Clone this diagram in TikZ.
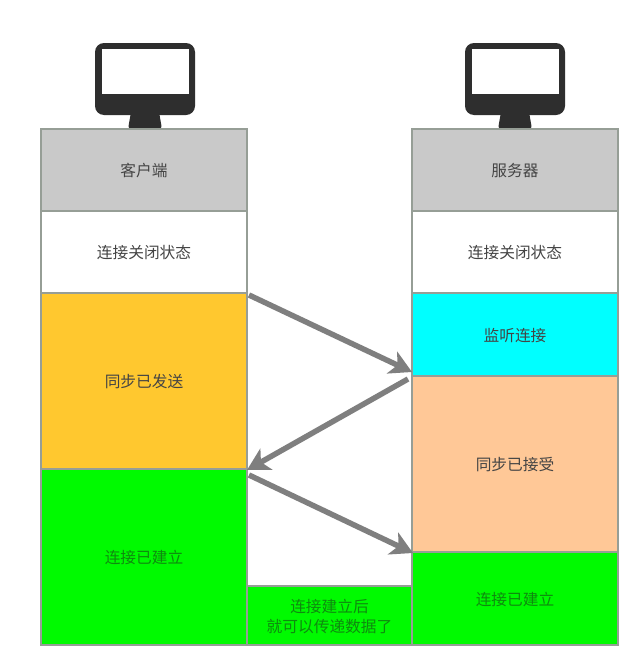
\documentclass[tikz,border=0pt]{standalone}
\usepackage{fontspec}
\setmainfont{Noto Sans CJK SC}
\usetikzlibrary{arrows.meta,calc}
\definecolor{edge}{HTML}{969E96}
\definecolor{flow}{HTML}{7F7F7F}
\definecolor{ink}{HTML}{444444}
\definecolor{greenink}{HTML}{0F8A0F}
\definecolor{mon}{HTML}{2E2E2E}
\definecolor{grayfill}{HTML}{C9C9C9}
\definecolor{amber}{HTML}{FFC82F}
\definecolor{peach}{HTML}{FFC897}
\definecolor{aqua}{HTML}{00FFFF}
\definecolor{lime}{HTML}{00FA00}
\tikzset{
  cell/.style={draw=edge,line width=1.2pt,anchor=north west,minimum width=206pt,inner sep=0pt,outer sep=0pt,
    text=ink,font=\fontsize{15.7}{19.5}\selectfont,align=center,text height=15pt,text depth=2pt},
  flowarrow/.style={draw=flow,line width=5.5pt,-{Stealth[length=22pt,width=24pt,inset=6pt]}},
  screenbody/.style={fill=mon,draw=none},
}
\newcommand{\monitor}[1]{%
  \begin{scope}[shift={(#1,0)}]
    \fill[screenbody,rounded corners=9pt] (95,43) rectangle (195,115);
    \fill[screenbody,rounded corners=3pt] (131,112) -- (159,112) -- (162,129) -- (128,129) -- cycle;
    \fill[white] (102,49) rectangle (189,94);
  \end{scope}}
\begin{document}
\begin{tikzpicture}[x=1pt,y=-1pt]
\useasboundingbox (0,0) rectangle (642,656);
\fill[white] (0,0) rectangle (642,656);
\monitor{0}
\monitor{370}
% left column
\node[cell,fill=grayfill,minimum height=82pt] (c1) at (41,129) {客户端};
\node[cell,fill=white,minimum height=82pt] (c2) at (41,211) {连接关闭状态};
\node[cell,fill=amber,minimum height=176pt] (c3) at (41,293) {同步已发送};
\node[cell,fill=lime,text=greenink,minimum height=176pt] (c4) at (41,469) {连接已建立};
% right column
\node[cell,fill=grayfill,minimum height=82pt] (s1) at (412,129) {服务器};
\node[cell,fill=white,minimum height=82pt] (s2) at (412,211) {连接关闭状态};
\node[cell,fill=aqua,minimum height=83pt] (s3) at (412,293) {监听连接};
\node[cell,fill=peach,minimum height=176pt] (s4) at (412,376) {同步已接受};
\node[cell,fill=lime,text=greenink,minimum height=93pt] (s5) at (412,552) {连接已建立};
% middle
\node[cell,fill=lime,text=greenink,minimum width=165pt,minimum height=59pt,text height=,text depth=] (m) at (247,586) {\rule{0pt}{15pt}连接建立后\\就可以传递数据了};
% arrows
\coordinate (a1s) at ($(c3.north east)+(2,2)$);
\coordinate (a1e) at ($(s3.south west)+(0,-4)$);
\coordinate (a2s) at ($(s4.north west)+(-4,3)$);
\coordinate (a2e) at ($(c3.south east)+(0,1)$);
\coordinate (a3s) at ($(c4.north east)+(2,6)$);
\coordinate (a3e) at ($(s5.north west)+(1,1)$);
\draw[flowarrow] (a1s) -- (a1e);
\draw[flowarrow] (a2s) -- (a2e);
\draw[flowarrow] (a3s) -- (a3e);
\end{tikzpicture}
\end{document}
